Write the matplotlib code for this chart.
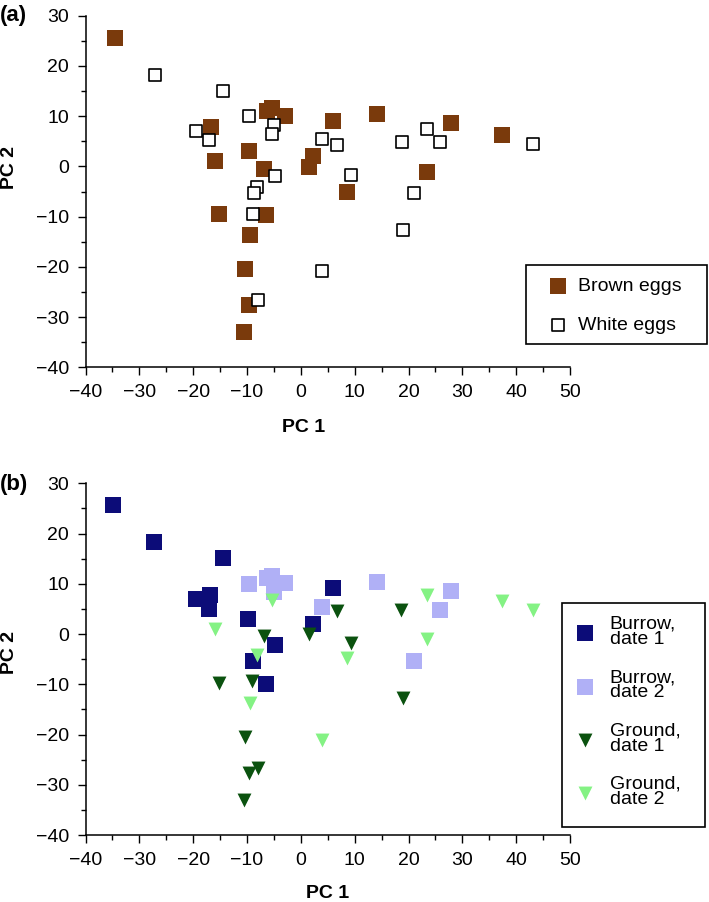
import matplotlib
matplotlib.use("Agg")
import matplotlib.pyplot as plt
from matplotlib.ticker import MultipleLocator
from matplotlib.patches import Rectangle

plt.rcParams['font.family'] = ['Liberation Sans', 'DejaVu Sans']
plt.rcParams['axes.unicode_minus'] = True

# Panel (a): egg colour
brown_x = [-34.6, -16.7, -16.0, -9.7, -6.2, -5.3, -2.9, -6.8, 2.2, 1.5, 5.9, 14.2,
           27.9, 37.3, 23.5, 8.6, -15.2, -6.4, -9.4, -10.4, -9.6, -10.5]
brown_y = [25.6, 7.8, 1.0, 3.0, 11.1, 11.6, 10.1, -0.5, 2.0, -0.1, 9.1, 10.4,
           8.6, 6.3, -1.1, -5.0, -9.5, -9.7, -13.6, -20.5, -27.6, -32.9]
white_x = [-27.1, -14.5, -19.5, -17.1, -9.7, -5.0, -5.3, -4.8, -8.2, -8.7, -8.8, -7.9,
           3.9, 6.8, 9.4, 4.0, 18.7, 23.4, 25.8, 21.0, 18.9, 43.2]
white_y = [18.2, 15.1, 7.0, 5.2, 10.1, 8.3, 6.4, -2.0, -4.1, -5.2, -9.4, -26.6,
           5.5, 4.3, -1.8, -20.9, 4.8, 7.5, 4.8, -5.3, -12.6, 4.5]

# Panel (b): location and date
burrow1_x = [-34.8, -27.2, -14.5, -19.5, -16.9, -17.1, -9.8, -4.8, -8.8, -6.5, 2.2, 5.9]
burrow1_y = [25.7, 18.3, 15.1, 7.0, 7.8, 5.0, 2.9, -2.1, -5.3, -10.0, 2.0, 9.2]
burrow2_x = [-9.7, -6.2, -5.3, -2.9, -5.0, 3.9, 14.2, 27.9, 25.8, 21.0]
burrow2_y = [10.0, 11.1, 11.6, 10.1, 8.3, 5.4, 10.4, 8.6, 4.8, -5.3]
ground1_x = [-15.2, -9.0, -6.9, 6.8, 1.5, 9.4, 18.6, 18.9, -10.4, -9.6, -7.9, -10.5]
ground1_y = [-9.7, -9.3, -0.3, 4.5, 0.1, -1.7, 4.8, -12.7, -20.5, -27.7, -26.7, -33.0]
ground2_x = [-16.0, -5.3, -8.2, -9.5, 8.6, 4.0, 23.4, 23.4, 37.3, 43.2]
ground2_y = [1.0, 6.7, -4.2, -13.7, -4.8, -21.0, 7.7, -1.0, 6.5, 4.7]

x_ticks = [-40, -30, -20, -10, 0, 10, 20, 30, 40, 50]
y_ticks = [-40, -30, -20, -10, 0, 10, 20, 30]

BROWN = '#7a3a0c'
NAVY = '#0c0c78'
LAV = '#b0b0f6'
DGREEN = '#0b520f'
LGREEN = '#84f284'

fig = plt.figure(figsize=(7.09, 9.02), dpi=100)
W, H = 709, 902

def make_axes(top_px, bottom_px):
    left, right = 85.5, 570
    return fig.add_axes([left / W, 1 - bottom_px / H, (right - left) / W, (bottom_px - top_px) / H])

def box(x0, y0, x1, y1):
    fig.add_artist(Rectangle((x0 / W, 1 - y1 / H), (x1 - x0) / W, (y1 - y0) / H,
                             transform=fig.transFigure, fill=False, edgecolor='black', linewidth=1.2))

def style(ax, ylab_frac, xlab_x, xlab_y):
    ax.set_xlim(-40, 50)
    ax.set_ylim(-40, 30)
    ax.set_xticks(x_ticks)
    ax.set_yticks(y_ticks)
    ax.xaxis.set_minor_locator(MultipleLocator(5))
    ax.yaxis.set_minor_locator(MultipleLocator(5))
    for s in ['top', 'right']:
        ax.spines[s].set_visible(False)
    for s in ['left', 'bottom']:
        ax.spines[s].set_linewidth(1.1)
    ax.tick_params(which='major', direction='out', length=6, width=1.0, labelsize=14, pad=6)
    ax.tick_params(which='minor', direction='out', length=3.8, width=1.0)
    ax.set_xlabel('PC 1', fontsize=14, fontweight='bold')
    ax.set_ylabel('PC 2', fontsize=14, fontweight='bold')
    ax.yaxis.set_label_coords(-0.140, ylab_frac)
    ax.xaxis.set_label_coords(xlab_x, xlab_y)

# Panel (a)
axa = make_axes(15.7, 367.3)
axa.scatter(brown_x, brown_y, marker='s', s=132, color=BROWN, linewidths=0, label='Brown eggs', zorder=2)
axa.scatter(white_x, white_y, marker='s', s=70, facecolor='white', edgecolor='black', linewidths=1.2,
            label='White eggs', zorder=3)
style(axa, 0.568, 0.451, -0.148)
axa.legend(loc='upper left', bbox_to_anchor=(0.9195, 0.2966), borderaxespad=0, fontsize=14,
           frameon=False, borderpad=0.75, labelspacing=1.1,
           handletextpad=0.35, handlelength=1.3, scatterpoints=1)
box(526, 265, 707, 344)
fig.text(0.0, 1 - 15.5 / H, '(a)', fontsize=16, fontweight='bold', va='center', ha='left')

# Panel (b)
axb = make_axes(483.3, 835.0)
axb.scatter(burrow1_x, burrow1_y, marker='s', s=125, color=NAVY, linewidths=0, label='Burrow,\ndate 1', zorder=2)
axb.scatter(burrow2_x, burrow2_y, marker='s', s=125, color=LAV, linewidths=0, label='Burrow,\ndate 2', zorder=3)
axb.scatter(ground1_x, ground1_y, marker='v', s=100, color=DGREEN, linewidths=0, label='Ground,\ndate 1', zorder=4)
axb.scatter(ground2_x, ground2_y, marker='v', s=100, color=LGREEN, linewidths=0, label='Ground,\ndate 2', zorder=5)
style(axb, 0.52, 0.5, -0.142)
legb = axb.legend(loc='upper left', bbox_to_anchor=(0.9835, 0.654), borderaxespad=0, fontsize=14,
                  frameon=False, borderpad=0.55, labelspacing=1.1,
                  handletextpad=0.6, handlelength=1.3, scatterpoints=1)
for t in legb.get_texts():
    t.set_linespacing(0.85)
box(562, 603, 705, 827)
fig.text(0.0, 1 - 484 / H, '(b)', fontsize=16, fontweight='bold', va='center', ha='left')

fig.savefig('out.png', dpi=100)
